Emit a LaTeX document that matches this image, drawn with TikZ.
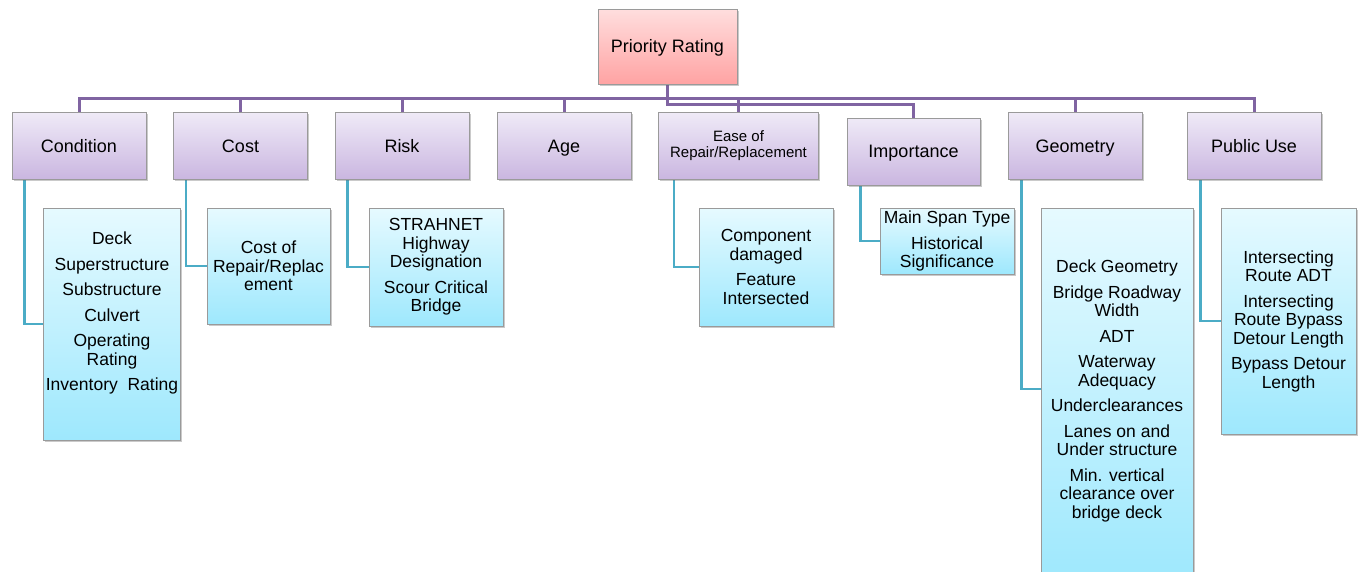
\documentclass[tikz,border=0pt]{standalone}
\usepackage{fontspec}
\setmainfont{Liberation Sans}
\usetikzlibrary{shadows,backgrounds}

\definecolor{prtop}{HTML}{FFDEDE}
\definecolor{prbot}{HTML}{FFA3A3}
\definecolor{cattop}{HTML}{EFEAF7}
\definecolor{catbot}{HTML}{CAB6E0}
\definecolor{subtop}{HTML}{E6FAFF}
\definecolor{subbot}{HTML}{9EE8FD}
\definecolor{edgegray}{HTML}{9A9A9A}
\definecolor{buscol}{HTML}{8064A2}
\definecolor{leafcol}{HTML}{4BACC6}

\tikzset{
  boxbase/.style={draw=edgegray, line width=0.9pt, shading=axis, shading angle=0,
    align=center, inner sep=2pt, text=black,
    drop shadow={shadow xshift=1.6pt, shadow yshift=-1.8pt, opacity=0.35, fill=black!60}},
  rootbox/.style={boxbase, top color=prtop, bottom color=prbot,
    minimum width=139pt, minimum height=75pt, font=\fontsize{18}{20}\selectfont,
    text height=13pt, text depth=1pt},
  catbox/.style={boxbase, top color=cattop, bottom color=catbot,
    minimum width=134pt, minimum height=67pt, font=\fontsize{18}{20}\selectfont},
  catline/.style={catbox, text height=13pt, text depth=1pt},
  subbox/.style={boxbase, top color=subtop, bottom color=subbot,
    minimum width=134pt, font=\fontsize{17.5}{18.5}\selectfont},
  bus/.style={draw=buscol, line width=3pt},
  leaf/.style={draw=leafcol, line width=2.8pt}
}

\begin{document}
\begin{tikzpicture}[x=1pt, y=-1pt]
\useasboundingbox (0,0) rectangle (1364,571);

% root
\node[rootbox] (pr) at (667.5,46.5) {Priority Rating};

% criteria row
\node[catline] (cond) at (79,146) {Condition};
\node[catline] (cost) at (240.5,146) {Cost};
\node[catline] (risk) at (402,146) {Risk};
\node[catline] (age)  at (564,146) {Age};
\node[catbox, minimum width=160pt, font=\fontsize{15}{16}\selectfont] (ease) at (738.5,146) {Ease of\\Repair/Replacement};
\node[catline, minimum width=133pt] (imp) at (913.5,151.5) {Importance};
\node[catline] (geom) at (1075,146) {Geometry};
\node[catline] (pub)  at (1254,146) {Public Use};

% detail boxes
\node[subbox, minimum height=232pt] (condc) at (112,324)
  {Deck\\[7pt]Superstructure\\[7pt]Substructure\\[7pt]Culvert\\[7pt]Operating\\Rating\\[7pt]Inventory~~Rating\\[7pt]~};
\node[subbox, minimum width=123pt, minimum height=116pt] (costc) at (268.5,266)
  {Cost of\\Repair/Replac\\ement};
\node[subbox, minimum height=118pt] (riskc) at (436,267)
  {STRAHNET\\Highway\\Designation\\[7pt]Scour Critical\\Bridge};
\node[subbox, minimum height=118pt] (easec) at (766,267)
  {Component\\damaged\\[7pt]Feature\\Intersected};
\node[subbox, minimum height=66pt, inner sep=1pt] (impc) at (947,241)
  {Main Span Type\\[7pt]Historical\\Significance};
\node[subbox, minimum width=152pt, minimum height=374pt] (geomc) at (1117,395)
  {Deck Geometry\\[7pt]Bridge Roadway\\Width\\[7pt]ADT\\[7pt]Waterway\\Adequacy\\[7pt]Underclearances\\[7pt]Lanes on and\\Under structure\\[7pt]Min. vertical\\clearance over\\bridge deck\\[-6.5pt]~};
\node[subbox, minimum width=135pt, minimum height=226pt] (pubc) at (1288.5,321)
  {Intersecting\\Route ADT\\[7pt]Intersecting\\Route Bypass\\Detour Length\\[7pt]Bypass Detour\\Length};

\begin{scope}[on background layer]
  % root to criteria
  \foreach \n in {cond,cost,risk,age,ease,geom,pub}
    \draw[bus] (pr.south) -- ++(0,14) -| (\n.north);
  \draw[bus] (pr.south) -- ++(0,20) -| (imp.north);
  % criteria to details
  \draw[leaf] ([xshift=13pt]cond.south west) |- (condc.west);
  \draw[leaf] ([xshift=13pt]cost.south west) |- (costc.west);
  \draw[leaf] ([xshift=13pt]risk.south west) |- (riskc.west);
  \draw[leaf] ([xshift=16pt]ease.south west) |- (easec.west);
  \draw[leaf] ([xshift=14pt]imp.south west) |- (impc.west);
  \draw[leaf] ([xshift=14pt]geom.south west) |- ([yshift=6pt]geomc.west);
  \draw[leaf] ([xshift=14pt]pub.south west) |- (pubc.west);
\end{scope}
\end{tikzpicture}
\end{document}
